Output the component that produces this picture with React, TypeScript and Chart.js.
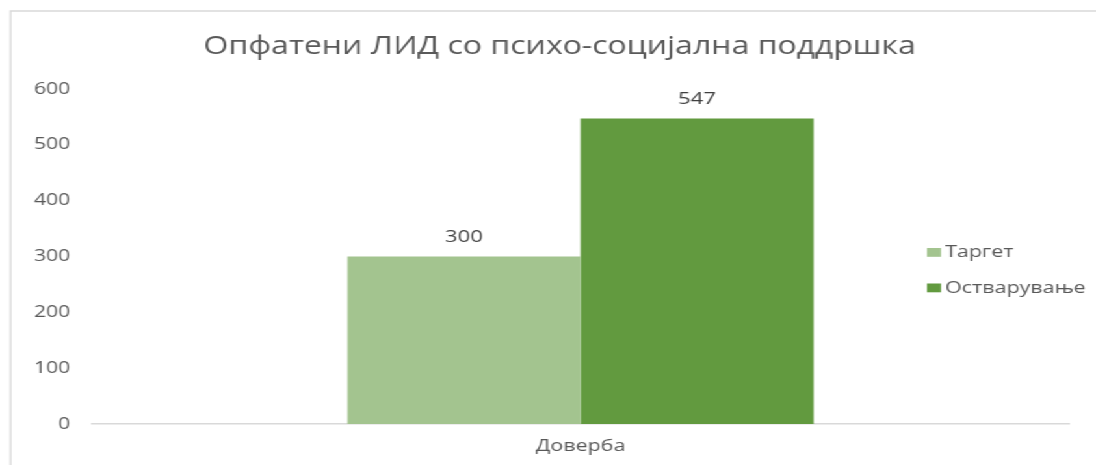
import React, { useEffect, useRef } from "react";
import { Chart, registerables } from "chart.js";

Chart.register(...registerables);

const TITLE = "Опфатени ЛИД со психо-социјална поддршка";
const categories = ["Доверба"];
const seriesNames = ["Таргет", "Остварување"];
const targetValues = [300];
const achievedValues = [547];
const yMin = 0;
const yMax = 600;
const yStep = 100;
const seriesColors = ["#A3C48F", "#629A3F"];

const PAGE_W = 1096;
const PAGE_H = 465;
const W = 843;
const S = PAGE_W / W;
const FONT = "'Open Sans', sans-serif";
const TEXT = "#595959";

const framePlugin = {
  id: "frame",
  beforeDraw(chart: any) {
    const ctx = chart.ctx;
    ctx.save();
    ctx.fillStyle = "#ffffff";
    ctx.fillRect(0, 0, chart.width, chart.height);
    ctx.strokeStyle = "#d9d9d9";
    ctx.lineWidth = 1.3;
    ctx.beginPath();
    ctx.moveTo(8.1, PAGE_H + 5);
    ctx.lineTo(8.1, 11);
    ctx.lineTo(chart.width + 5, 11);
    ctx.stroke();
    ctx.restore();
  },
};

const decorPlugin = {
  id: "decor",
  afterDraw(chart: any) {
    const ctx = chart.ctx;
    ctx.save();
    // title
    ctx.fillStyle = TEXT;
    ctx.font = `24.6px ${FONT}`;
    ctx.textAlign = "center";
    ctx.textBaseline = "alphabetic";
    ctx.fillText(TITLE, 430.4, 53.8);
    // data labels
    ctx.fillStyle = "#404040";
    ctx.font = `17px ${FONT}`;
    chart.data.datasets.forEach((ds: any, i: number) => {
      const meta = chart.getDatasetMeta(i);
      meta.data.forEach((bar: any, j: number) => {
        ctx.fillText(String(ds.data[j]), bar.x, bar.y - 14.5);
      });
    });
    // legend
    ctx.font = `16.5px ${FONT}`;
    ctx.textAlign = "left";
    chart.data.datasets.forEach((ds: any, i: number) => {
      const base = 257 + i * 35.5;
      ctx.fillStyle = ds.backgroundColor;
      ctx.fillRect(713, base - 9, 10.8, 8.8);
      ctx.fillStyle = TEXT;
      ctx.fillText(ds.label, 727, base);
    });
    ctx.restore();
  },
};

function App() {
  const ref = useRef<HTMLCanvasElement | null>(null);
  useEffect(() => {
    if (!ref.current) return;
    const chart = new Chart(ref.current, {
      type: "bar",
      data: {
        labels: categories,
        datasets: [
          {
            label: seriesNames[0],
            data: targetValues,
            backgroundColor: seriesColors[0],
            categoryPercentage: 0.477,
            barPercentage: 1,
          },
          {
            label: seriesNames[1],
            data: achievedValues,
            backgroundColor: seriesColors[1],
            categoryPercentage: 0.477,
            barPercentage: 1,
          },
        ],
      },
      options: {
        animation: false,
        responsive: false,
        devicePixelRatio: 1,
        layout: { padding: { top: 89, right: W - 822.3, left: 0, bottom: 0 } },
        plugins: {
          legend: { display: false },
          title: { display: false },
          tooltip: { enabled: false },
        },
        scales: {
          x: {
            grid: { display: false, drawTicks: false },
            border: { display: true, color: "#d9d9d9", width: 1.5 },
            ticks: { color: TEXT, font: { family: FONT, size: 16.5 }, padding: 12 },
            afterFit: (s: any) => {
              s.height = 41;
            },
          },
          y: {
            min: yMin,
            max: yMax,
            grid: { display: false, drawTicks: false },
            border: { display: false },
            ticks: {
              stepSize: yStep,
              color: TEXT,
              font: { family: FONT, size: 16 },
              padding: 17,
            },
            afterFit: (s: any) => {
              s.width = 70.8;
            },
          },
        },
      },
      plugins: [framePlugin, decorPlugin],
    });
    return () => chart.destroy();
  }, []);
  return (
    <div
      style={{
        position: "absolute",
        left: 0,
        top: 0,
        width: W,
        height: PAGE_H,
        transform: `scaleX(${S})`,
        transformOrigin: "0 0",
        background: "#fff",
      }}
    >
      <canvas ref={ref} width={W} height={PAGE_H} style={{ display: "block" }} />
    </div>
  );
}

export default App;
